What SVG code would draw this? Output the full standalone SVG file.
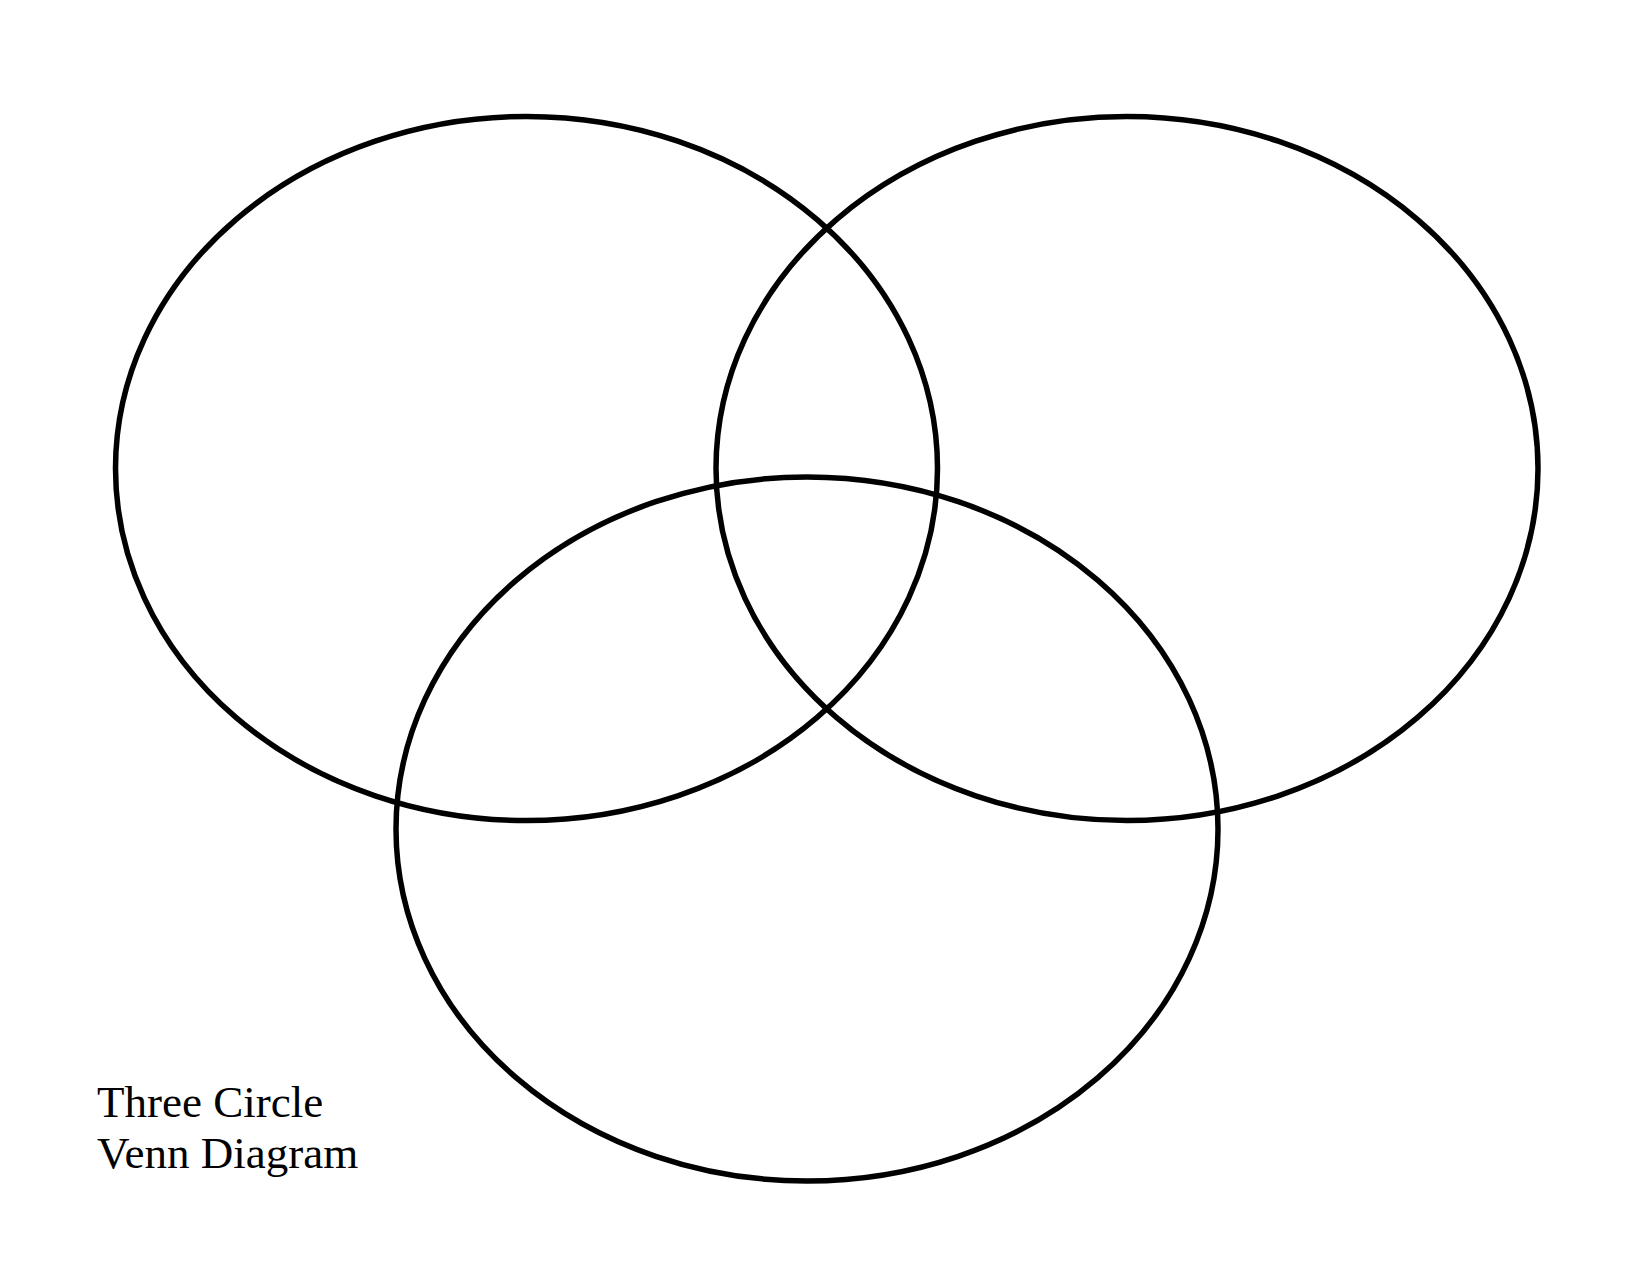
<svg xmlns="http://www.w3.org/2000/svg" width="1650" height="1275" viewBox="0 0 1650 1275">
<style>
.c{fill:none;stroke:#000;stroke-width:5.5}
.t{font-family:"Liberation Serif","Times New Roman",serif;font-size:45px;fill:#000}
</style>
<rect width="1650" height="1275" fill="#fff"/>
<g id="circle-left"><ellipse class="c" cx="526.5" cy="468.5" rx="411" ry="352"/></g>
<g id="circle-right"><ellipse class="c" cx="1127" cy="468.5" rx="411" ry="352"/></g>
<g id="circle-bottom"><ellipse class="c" cx="807" cy="829" rx="411" ry="352"/></g>
<g id="connectors"></g>
<g id="label">
<text class="t" x="97" y="1117">Three Circle</text>
<text class="t" x="97" y="1168">Venn Diagram</text>
</g>
</svg>
